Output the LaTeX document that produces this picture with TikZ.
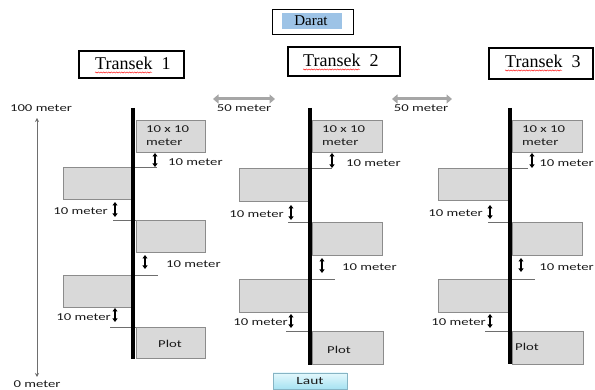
\documentclass[tikz,border=0pt]{standalone}
\usepackage{fontspec}
\setmainfont{Liberation Serif}
\newfontfamily\lab[FakeStretch=1.4]{Carlito}
\usetikzlibrary{arrows.meta,decorations.pathmorphing}
\definecolor{boxfill}{HTML}{D9D9D9}
\definecolor{boxline}{HTML}{8C8C8C}
\definecolor{thin}{HTML}{6E6E6E}
\definecolor{wide}{HTML}{A6A6A6}
\definecolor{daratblue}{HTML}{9DC3E6}
\definecolor{lauttop}{HTML}{E4F8FC}
\definecolor{lautbot}{HTML}{A6E2F2}
\definecolor{lautline}{HTML}{86B4C4}
\definecolor{txt}{HTML}{1A1A1A}
\tikzset{
  plotbox/.style={draw=boxline, fill=boxfill, line width=0.8pt},
  thinline/.style={draw=thin, line width=0.6pt},
  transect/.style={draw=black, line width=3.5pt},
  gaparrow/.style={draw=black, line width=1.2pt, {Triangle[width=5pt,length=3.5pt]}-{Triangle[width=5pt,length=3.5pt]}},
  widearrow/.style={draw=wide, line width=3pt, {Triangle[width=9pt,length=5.5pt]}-{Triangle[width=9pt,length=5.5pt]}},
  axisarrow/.style={draw=thin, line width=0.8pt, {Stealth[width=4pt,length=4pt]}-{Stealth[width=4pt,length=4pt]}},
  lbl/.style={inner sep=0pt, text=txt, font=\lab\fontsize{10.5}{13}\selectfont},
  titlebox/.style={draw=black, line width=2.2pt},
  titletext/.style={inner sep=0pt, font=\fontsize{18}{20}\selectfont},
  squig/.style={draw=red, line width=0.4pt, decorate, decoration={snake, amplitude=0.6pt, segment length=2.6pt}},
}
\begin{document}
\begin{tikzpicture}[x=1pt,y=-1pt]
\useasboundingbox (0,0) rectangle (595,390);

% ---------- top labels ----------
\draw[draw=black, line width=0.8pt] (272,9) rectangle (353,34);
\fill[daratblue] (282,13) rectangle (342,29);
\node[inner sep=0pt, font=\fontsize{15}{17}\selectfont] (darat) at (311,21) {Darat};

\draw[titlebox] (79,51) rectangle (184,78);
\node[titletext, anchor=base west] (t1) at (95,70) {Transek\hspace{0.5em}1};
\draw[squig] ([yshift=-2.5pt]t1.base west) -- ++(57,0);

\draw[titlebox] (288,47) rectangle (400,76);
\node[titletext, anchor=base west] (t2) at (303,67) {Transek\hspace{0.5em}2};
\draw[squig] ([yshift=-2.5pt]t2.base west) -- ++(57,0);

\draw[titlebox] (489,48) rectangle (593,79);
\node[titletext, anchor=base west] (t3) at (505,68) {Transek\hspace{0.5em}3};
\draw[squig] ([yshift=-2.5pt]t3.base west) -- ++(57,0);

% ---------- 50 meter arrows ----------
\coordinate (w1a) at (213,99); \coordinate (w1b) at (275,99);
\draw[widearrow] (w1a) -- (w1b);
\node[lbl] (w1l) at (244,108) {50 meter};
\coordinate (w2a) at (392,99); \coordinate (w2b) at (452,99);
\draw[widearrow] (w2a) -- (w2b);
\node[lbl] (w2l) at (421,108) {50 meter};

% ---------- left axis ----------
\node[lbl] (top) at (41,108) {100 meter};
\node[lbl] (bot) at (37,384) {0 meter};
\coordinate (axa) at (37,118); \coordinate (axb) at (37,377);
\draw[axisarrow] (axa) -- (axb);

% ---------- Transek 1 ----------
\draw[plotbox] (136,120) rectangle (205,152);
\node[lbl, anchor=west, align=left] (a1) at (146,136) {10 x 10\\meter};
\draw[gaparrow] (155,153) -- (155,167);
\node[lbl, anchor=west] (a1g) at (168,162) {10 meter};
\draw[plotbox] (63,167) rectangle (133,199);
\draw[thinline] (133,167) -- (157,167);
\draw[gaparrow] (115,202) -- (115,217);
\node[lbl, anchor=east] (b1g) at (108,211) {10 meter};
\draw[plotbox] (136,220) rectangle (205,252);
\draw[thinline] (113,220) -- (136,220);
\draw[gaparrow] (145,255) -- (145,269);
\node[lbl, anchor=west] (c1g) at (166,264) {10 meter};
\draw[plotbox] (63,275) rectangle (133,307);
\draw[thinline] (133,275) -- (158,275);
\draw[gaparrow] (115,308) -- (115,322);
\node[lbl, anchor=east] (d1g) at (111,317) {10 meter};
\draw[plotbox] (136,327) rectangle (205,358);
\draw[thinline] (110,327) -- (136,327);
\node[lbl] (e1) at (170,344) {Plot};
\draw[transect] (133,108) -- (133,359);

% ---------- Transek 2 ----------
\draw[plotbox] (312,120) rectangle (382,152);
\node[lbl, anchor=west, align=left] (a2) at (322,136) {10 x 10\\meter};
\draw[gaparrow] (332,153) -- (332,168);
\node[lbl, anchor=west] (a2g) at (346,163) {10 meter};
\draw[plotbox] (239,168) rectangle (310,201);
\draw[thinline] (310,168) -- (332,168);
\draw[gaparrow] (291,205) -- (291,220);
\node[lbl, anchor=east] (b2g) at (284,214) {10 meter};
\draw[plotbox] (312,222) rectangle (382,255);
\draw[thinline] (288,222) -- (312,222);
\draw[gaparrow] (322,258) -- (322,273);
\node[lbl, anchor=west] (c2g) at (342,267) {10 meter};
\draw[plotbox] (239,279) rectangle (310,312);
\draw[thinline] (310,279) -- (335,279);
\draw[gaparrow] (291,314) -- (291,328);
\node[lbl, anchor=east] (d2g) at (288,322) {10 meter};
\draw[plotbox] (312,331) rectangle (383,364);
\draw[thinline] (286,331) -- (312,331);
\node[lbl] (e2) at (339,350) {Plot};
\draw[transect] (310,108) -- (310,365);

% ---------- Transek 3 ----------
\draw[plotbox] (512,120) rectangle (582,152);
\node[lbl, anchor=west, align=left] (a3) at (522,136) {10 x 10\\meter};
\draw[gaparrow] (532,153) -- (532,168);
\node[lbl, anchor=east] (a3g) at (594,163) {10 meter};
\draw[plotbox] (438,168) rectangle (508,200);
\draw[thinline] (508,168) -- (528,168);
\draw[gaparrow] (490,205) -- (490,219);
\node[lbl, anchor=east] (b3g) at (483,213) {10 meter};
\draw[plotbox] (512,222) rectangle (582,255);
\draw[thinline] (488,222) -- (512,222);
\draw[gaparrow] (521,258) -- (521,272);
\node[lbl, anchor=east] (c3g) at (594,267) {10 meter};
\draw[plotbox] (438,279) rectangle (508,312);
\draw[thinline] (508,279) -- (535,279);
\draw[gaparrow] (490,314) -- (490,328);
\node[lbl, anchor=east] (d3g) at (486,322) {10 meter};
\draw[plotbox] (512,331) rectangle (583,364);
\draw[thinline] (485,331) -- (512,331);
\node[lbl, anchor=west] (e3) at (515,347) {Plot};
\draw[transect] (510,108) -- (510,364);

% ---------- Laut ----------
\shade[top color=lauttop, bottom color=lautbot] (273,373) rectangle (347,389);
\draw[draw=lautline, line width=0.8pt] (273,373) rectangle (347,389);
\node[lbl, font=\lab\fontsize{11}{13}\selectfont] (laut) at (310,381) {Laut};
\end{tikzpicture}
\end{document}
